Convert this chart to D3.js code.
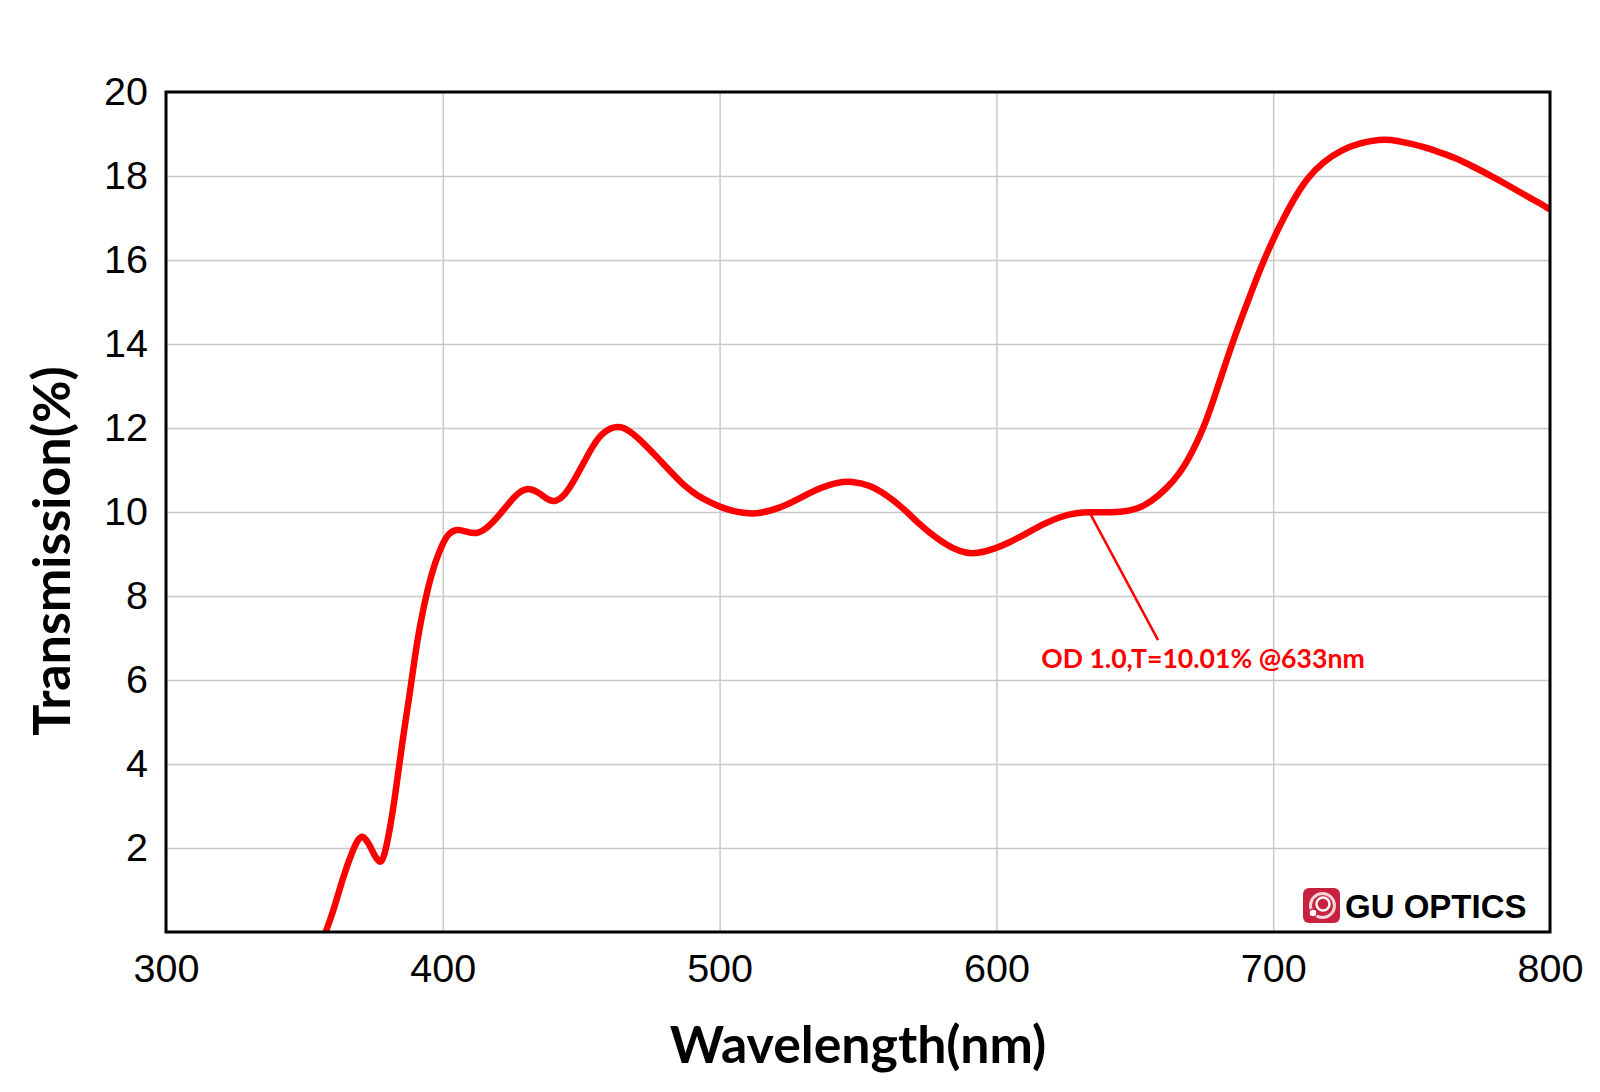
<!DOCTYPE html>
<html>
<head>
<meta charset="utf-8">
<script src="https://cdn.jsdelivr.net/npm/d3@7"></script>
<style>
  body { margin: 0; background: #fff; }
  svg { display: block; }
  .tick text { font-family: "Liberation Sans", Arial, sans-serif; font-size: 39.5px; fill: #000; }
  .grid line { stroke: #c9c9c9; stroke-width: 1.5px; }
  .domain { display: none; }
</style>
</head>
<body>
<script>
var wavelength = [357.4, 360.4, 364, 367.7, 369.5, 370.9, 372.3, 373.7, 375.5, 377, 378, 379.1, 380.9, 382.7, 384.2, 386, 387.9, 390, 392, 394.8, 397.2, 399.6,
  402, 405.2, 408.6, 412, 415.8, 420, 424.3, 427.9, 431.5, 435.1, 438.1, 440.8, 444.1, 447.2, 450.8, 454.4, 458, 463.4, 467.6,
  472.4, 477.2, 482, 486.9, 491.7, 496.5, 501.3, 506.1, 511, 514.6, 521.8, 529, 536.3, 542.3, 547.7, 554.3, 560.4, 566.4, 572.4,
  578.4, 584.4, 589.2, 592.9, 598.9, 604.9, 610.9, 616.9, 623, 629, 633.8, 639.8, 645.8, 650.7, 655.5, 661.5, 666.3, 670.5, 674.8,
  678.4, 682, 685.6, 689.2, 692.8, 696.4, 700.1, 703.7, 707.3, 712.1, 718.1, 724.7, 731.4, 738.6, 742.2, 748.2, 754.2, 760.2, 766.3,
  772.3, 778.3, 784.3, 790.3, 796.4, 800, 800];

var transmission = [-0.05, 0.48, 1.32, 1.99, 2.22, 2.3, 2.2, 2.05, 1.8, 1.66, 1.68, 1.87, 2.45, 3.2, 3.95, 4.8, 5.6, 6.6, 7.4, 8.25, 8.8, 9.2,
  9.5, 9.6, 9.53, 9.47, 9.6, 9.89, 10.25, 10.5, 10.58, 10.44, 10.28, 10.24, 10.4, 10.72, 11.16, 11.6, 11.92, 12.07, 11.93,
  11.65, 11.32, 10.98, 10.64, 10.4, 10.23, 10.09, 10.0, 9.96, 9.97, 10.09, 10.33, 10.58, 10.7, 10.74, 10.64, 10.4, 10.09, 9.69,
  9.37, 9.12, 9.02, 9.01, 9.11, 9.28, 9.49, 9.71, 9.89, 9.98, 10.0, 9.99, 10.0, 10.07, 10.22, 10.56, 10.92, 11.39, 11.99,
  12.66, 13.38, 14.09, 14.73, 15.36, 15.96, 16.51, 16.99, 17.43, 17.94, 18.34, 18.62, 18.79, 18.87, 18.87, 18.79, 18.7, 18.56, 18.42,
  18.22, 18.02, 17.8, 17.57, 17.35, 17.2, 17.2];

var xTicks = [300, 400, 500, 600, 700, 800];
var yTicks = [2, 4, 6, 8, 10, 12, 14, 16, 18, 20];

var margin = {top: 92, right: 50, bottom: 160, left: 166},
    width = 1600 - margin.left - margin.right,
    height = 1092 - margin.top - margin.bottom;

var x = d3.scaleLinear().domain([300, 800]).range([0, width]);
var y = d3.scaleLinear().domain([0, 20]).range([height, 0]);

var root = d3.select("body").append("svg")
    .attr("width", 1600)
    .attr("height", 1092);

var svg = root.append("g")
    .attr("transform", "translate(" + margin.left + "," + margin.top + ")");

// gridlines
svg.append("g")
    .attr("class", "grid")
    .attr("transform", "translate(0," + height + ")")
    .call(d3.axisBottom(x).tickValues(xTicks).tickSize(-height).tickFormat(""));

svg.append("g")
    .attr("class", "grid")
    .call(d3.axisLeft(y).tickValues(yTicks).tickSize(-width).tickFormat(""));

// tick labels
svg.append("g")
    .attr("transform", "translate(0," + height + ")")
    .call(d3.axisBottom(x).tickValues(xTicks).tickSize(0).tickPadding(22));

svg.append("g")
    .call(d3.axisLeft(y).tickValues(yTicks).tickSize(0).tickPadding(18));

root.append("defs").append("clipPath")
    .attr("id", "plot")
  .append("rect")
    .attr("width", width)
    .attr("height", height);

var line = d3.line()
    .x(function(d, i) { return x(wavelength[i]); })
    .y(function(d) { return y(d); })
    .curve(d3.curveBasis);

svg.append("path")
    .datum(transmission)
    .attr("clip-path", "url(#plot)")
    .attr("fill", "none")
    .attr("stroke", "#ff0000")
    .attr("stroke-width", 6.5)
    .attr("d", line);

// frame
svg.append("rect")
    .attr("width", width)
    .attr("height", height)
    .attr("fill", "none")
    .attr("stroke", "#000")
    .attr("stroke-width", 3);

// annotation
svg.append("line")
    .attr("x1", x(633.5))
    .attr("y1", y(10.01))
    .attr("x2", x(658.4))
    .attr("y2", y(6.95))
    .attr("stroke", "#ff0000")
    .attr("stroke-width", 2.5);

svg.append("text")
    .attr("x", x(616.2))
    .attr("y", y(6.28))
    .style("font-family", "Lato, sans-serif")
    .style("font-weight", 700)
    .style("font-size", "26.6px")
    .style("fill", "#ff0000")
    .text("OD 1.0,T=10.01% @633nm");

// axis titles
root.append("text")
    .attr("x", 858)
    .attr("y", 1063)
    .attr("text-anchor", "middle")
    .style("font-family", "Lato, sans-serif")
    .style("font-weight", 700)
    .style("font-size", "51.8px")
    .text("Wavelength(nm)");

root.append("text")
    .attr("transform", "translate(70,551) rotate(-90)")
    .attr("text-anchor", "middle")
    .style("font-family", "Lato, sans-serif")
    .style("font-weight", 700)
    .style("font-size", "52px")
    .text("Transmission(%)");

// logo
var logo = root.append("g").attr("transform", "translate(1303,888)");
logo.append("rect")
    .attr("width", 37)
    .attr("height", 35)
    .attr("rx", 6)
    .attr("fill", "#c8203f");
logo.append("circle")
    .attr("cx", 19.5).attr("cy", 17.5).attr("r", 12)
    .attr("fill", "none").attr("stroke", "#f4d6da").attr("stroke-width", 3);
logo.append("circle")
    .attr("cx", 20).attr("cy", 16).attr("r", 6.5)
    .attr("fill", "none").attr("stroke", "#fff").attr("stroke-width", 2.5);
logo.append("circle")
    .attr("cx", 10).attr("cy", 25).attr("r", 4)
    .attr("fill", "#fff").attr("stroke", "#c8203f").attr("stroke-width", 1.5);
logo.append("text")
    .attr("x", 42)
    .attr("y", 30)
    .style("font-family", "'Liberation Sans', Arial, sans-serif")
    .style("font-weight", 700)
    .style("font-size", "33px")
    .text("GU OPTICS");
</script>
</body>
</html>
